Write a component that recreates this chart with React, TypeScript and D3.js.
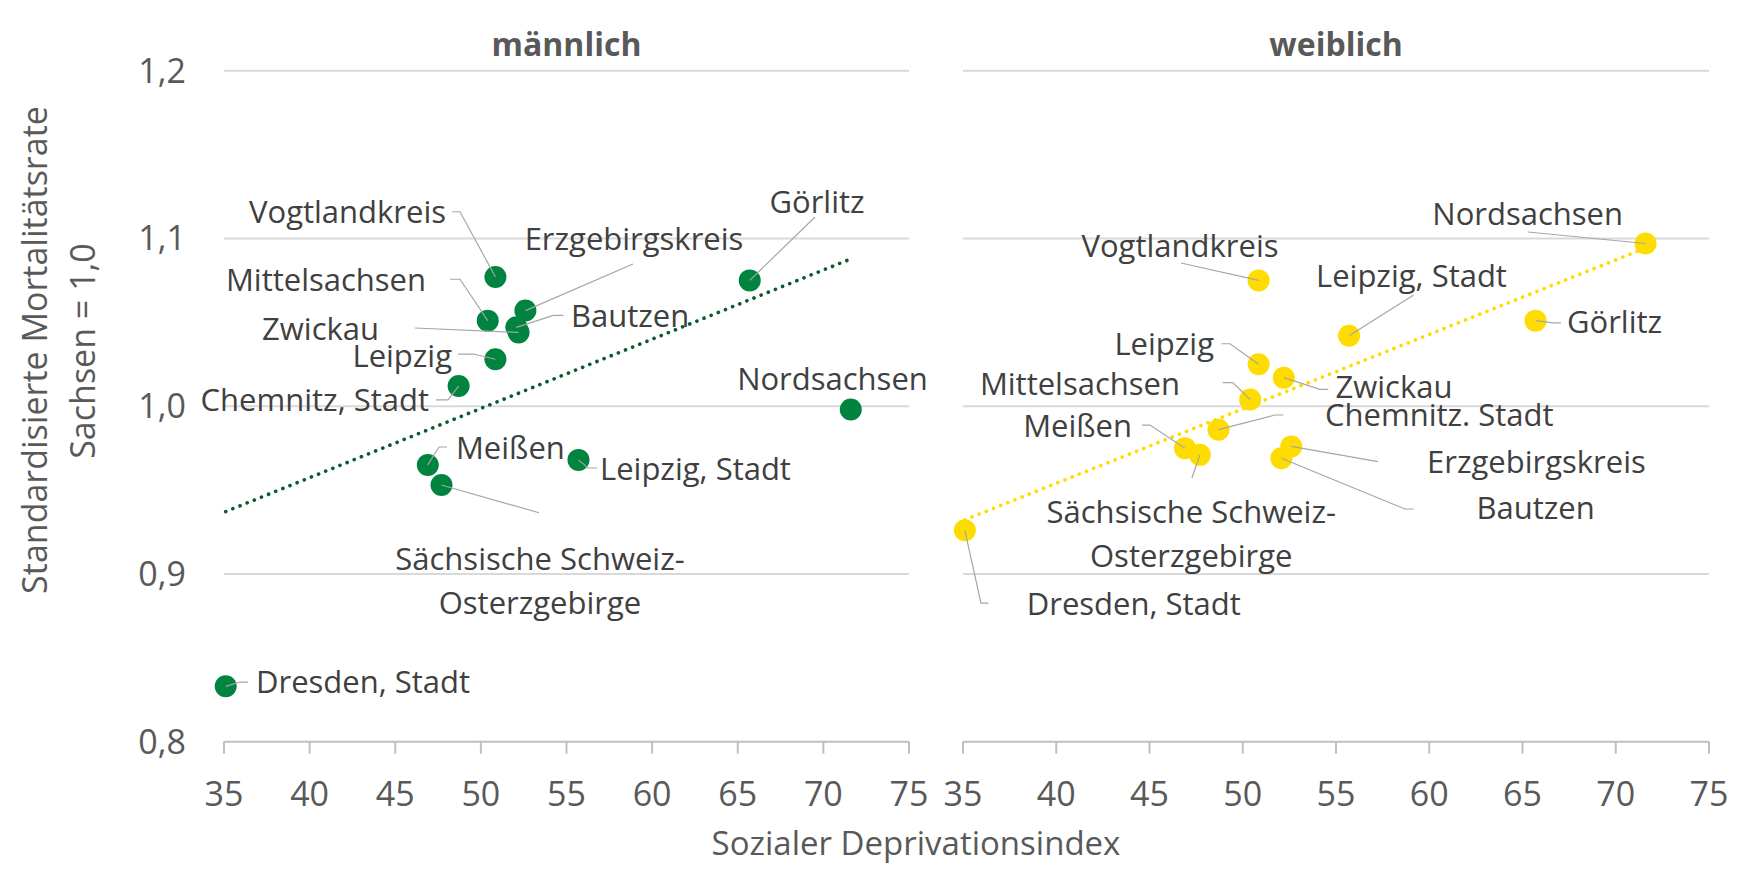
import React, { useEffect } from "react";
import * as d3 from "d3";

// ---------- Data ----------
const regions = [
  "Dresden, Stadt",
  "Meißen",
  "Sächsische Schweiz-Osterzgebirge",
  "Chemnitz, Stadt",
  "Mittelsachsen",
  "Vogtlandkreis",
  "Leipzig",
  "Bautzen",
  "Zwickau",
  "Erzgebirgskreis",
  "Leipzig, Stadt",
  "Görlitz",
  "Nordsachsen",
];
const deprivationIndex = [35.1, 46.9, 47.7, 48.7, 50.4, 50.85, 50.85, 52.07, 52.2, 52.6, 55.7, 65.7, 71.6];
const smrMale = [0.833, 0.965, 0.953, 1.012, 1.051, 1.077, 1.028, 1.047, 1.044, 1.057, 0.968, 1.075, 0.998];
const smrFemale = [0.926, 0.975, 0.971, 0.986, 1.004, 1.075, 1.025, 0.969, 1.017, 0.976, 1.042, 1.051, 1.097];

// label texts as printed in each panel (lines)
const labelsMale = [
  ["Dresden, Stadt"],
  ["Meißen"],
  ["Sächsische Schweiz-", "Osterzgebirge"],
  ["Chemnitz, Stadt"],
  ["Mittelsachsen"],
  ["Vogtlandkreis"],
  ["Leipzig"],
  ["Bautzen"],
  ["Zwickau"],
  ["Erzgebirgskreis"],
  ["Leipzig, Stadt"],
  ["Görlitz"],
  ["Nordsachsen"],
];
const labelsFemale = [
  ["Dresden, Stadt"],
  ["Meißen"],
  ["Sächsische Schweiz-", "Osterzgebirge"],
  ["Chemnitz. Stadt"],
  ["Mittelsachsen"],
  ["Vogtlandkreis"],
  ["Leipzig"],
  ["Bautzen"],
  ["Zwickau"],
  ["Erzgebirgskreis"],
  ["Leipzig, Stadt"],
  ["Görlitz"],
  ["Nordsachsen"],
];

const xTicks = [35, 40, 45, 50, 55, 60, 65, 70, 75];
const yTicks = [0.8, 0.9, 1.0, 1.1, 1.2];
const panelTitles = ["männlich", "weiblich"];
const yTitleLines = ["Standardisierte Mortalitätsrate", "Sachsen = 1,0"];
const xTitle = "Sozialer Deprivationsindex";

// ---------- Label layout (pixel offsets relative to each point) ----------
type Lay = { a: "start" | "middle" | "end"; dx: number; dy: number; leader: number[][] };
const layoutMale: Lay[] = [
  { a: "start", dx: 30.3, dy: 6.7, leader: [[22.3, -4.3], [14.3, -4.3]] },
  { a: "start", dx: 28.2, dy: -5.9, leader: [[19.2, -17.9], [11.2, -17.9]] },
  { a: "middle", dx: 98.5, dy: 85, leader: [[97.5, 27.7]] },
  { a: "end", dx: -29.6, dy: 24.9, leader: [[-22.6, 13.9], [-10.6, 13.9]] },
  { a: "end", dx: -61.7, dy: -29.7, leader: [[-37.7, -41.4], [-27.7, -41.4]] },
  { a: "end", dx: -49.4, dy: -53.7, leader: [[-43.4, -65.3], [-35.4, -65.3]] },
  { a: "end", dx: -43.4, dy: 7.8, leader: [[-37.4, -5.2], [-22, -5.2]] },
  { a: "start", dx: 54.7, dy: -0.4, leader: [[47, -12], [37, -12]] },
  { a: "end", dx: -139.5, dy: 7.6, leader: [[-103.5, -4.4]] },
  { a: "middle", dx: 108.6, dy: -60.6, leader: [[107.6, -46.6]] },
  { a: "start", dx: 21.5, dy: 20.1, leader: [[18.5, 8.1], [9.5, 8.1]] },
  { a: "middle", dx: 67.3, dy: -67.4, leader: [[65.3, -63.4]] },
  { a: "middle", dx: -18.3, dy: -19.6, leader: [] },
];
const layoutFemale: Lay[] = [
  { a: "start", dx: 61.9, dy: 84.7, leader: [[23.6, 72.7], [16.1, 72.7]] },
  { a: "end", dx: -52.9, dy: -11.1, leader: [[-42.9, -23.1], [-34.9, -23.1]] },
  { a: "middle", dx: -8.6, dy: 68.2, leader: [[-7.9, 23.2]] },
  { a: "start", dx: 106.5, dy: -3.7, leader: [[64.8, -14.7], [56.5, -14.7]] },
  { a: "end", dx: -70.2, dy: -4.5, leader: [[-27.5, -16.8], [-17.5, -16.8]] },
  { a: "middle", dx: -78.6, dy: -23.4, leader: [[-77.6, -17.4]] },
  { a: "end", dx: -44.6, dy: -9.5, leader: [[-37, -20.5], [-28.6, -20.5]] },
  { a: "start", dx: 195.1, dy: 60.8, leader: [[132.3, 50.8], [123.6, 50.8]] },
  { a: "start", dx: 51.7, dy: 20.3, leader: [[44.5, 11.6], [36.2, 11.6]] },
  { a: "start", dx: 135.8, dy: 26.2, leader: [[86.8, 15.2]] },
  { a: "middle", dx: 62.4, dy: -48.7, leader: [[64.6, -40.7]] },
  { a: "start", dx: 31.4, dy: 12.3, leader: [[25.4, 2.3], [17.4, 2.3]] },
  { a: "middle", dx: -117.9, dy: -18.5, leader: [[-117.6, -11.5]] },
];

// ---------- Styles ----------
const W = 1757;
const H = 869;
const FONT = "'Open Sans', 'Noto Sans', sans-serif";
const GREEN = "#00843F";
const GREEN_TREND = "#0A5A2E";
const YELLOW = "#FFDC00";
const LABEL_COLOR = "#404040";
const AXIS_TEXT = "#595959";
const GRID = "#D9D9D9";
const AXIS_LINE = "#BFBFBF";
const LEADER = "#A6A6A6";

function linFit(xs: number[], ys: number[]) {
  const mx = d3.mean(xs) as number;
  const my = d3.mean(ys) as number;
  let sxy = 0;
  let sxx = 0;
  xs.forEach((x, i) => {
    sxy += (x - mx) * (ys[i] - my);
    sxx += (x - mx) * (x - mx);
  });
  const b = sxy / sxx;
  const a = my - b * mx;
  return (x: number) => a + b * x;
}

const yScale = d3.scaleLinear().domain([0.8, 1.2]).range([741.7, 70.7]);
const fmtY = (v: number) => d3.format(".1f")(v).replace(".", ",");

function Panel({
  x,
  values,
  labels,
  layout,
  color,
  trendColor,
  title,
  showYTicks,
}: {
  x: d3.ScaleLinear<number, number>;
  values: number[];
  labels: string[][];
  layout: Lay[];
  color: string;
  trendColor: string;
  title: string;
  showYTicks: boolean;
}) {
  const [x0, x1] = x.range();
  const fit = linFit(deprivationIndex, values);
  const xmin = d3.min(deprivationIndex) as number;
  const xmax = d3.max(deprivationIndex) as number;
  const trend = d3
    .line<number>()
    .x((d) => x(d))
    .y((d) => yScale(fit(d)))([xmin, xmax]);
  const pts = deprivationIndex.map((d, i) => [x(d), yScale(values[i])]);
  return (
    <g>
      <text
        x={(x0 + x1) / 2}
        y={56}
        textAnchor="middle"
        fontFamily={FONT}
        fontWeight={700}
        fontSize={32}
        fill={AXIS_TEXT}
      >
        {title}
      </text>
      {yTicks.map((t) => (
        <line
          key={"g" + t}
          x1={x0}
          x2={x1}
          y1={yScale(t)}
          y2={yScale(t)}
          stroke={t === 0.8 ? AXIS_LINE : GRID}
          strokeWidth={2}
        />
      ))}
      {xTicks.map((t) => (
        <g key={"x" + t}>
          <line x1={x(t)} x2={x(t)} y1={yScale(0.8)} y2={yScale(0.8) + 12} stroke={AXIS_LINE} strokeWidth={2} />
          <text x={x(t)} y={806} textAnchor="middle" fontFamily={FONT} fontSize={34} fill={AXIS_TEXT}>
            {t}
          </text>
        </g>
      ))}
      {showYTicks &&
        yTicks.map((t) => (
          <text
            key={"y" + t}
            x={186}
            y={yScale(t) + 12}
            textAnchor="end"
            fontFamily={FONT}
            fontSize={34}
            fill={AXIS_TEXT}
          >
            {fmtY(t)}
          </text>
        ))}
      <path d={trend || ""} fill="none" stroke={trendColor} strokeWidth={3.6} strokeDasharray="0.1 7.6" strokeLinecap="round" />
      {pts.map(([px, py], i) => (
        <circle key={"p" + i} cx={px} cy={py} r={11} fill={color} />
      ))}
      {pts.map(([px, py], i) => {
        const L = layout[i];
        if (!L.leader.length) return null;
        const pp = L.leader.map(([lx, ly]) => [px + lx, py + ly]).concat([[px, py]]);
        return (
          <polyline
            key={"l" + i}
            points={pp.map((p) => p.join(",")).join(" ")}
            fill="none"
            stroke={LEADER}
            strokeWidth={1.2}
          />
        );
      })}
      {pts.map(([px, py], i) => {
        const L = layout[i];
        return (
          <text
            key={"t" + i}
            x={px + L.dx}
            y={py + L.dy}
            textAnchor={L.a}
            fontFamily={FONT}
            fontSize={31}
            fill={LABEL_COLOR}
          >
            {labels[i].map((s, k) => (
              <tspan key={k} x={px + L.dx} dy={k === 0 ? 0 : 43.5}>
                {s}
              </tspan>
            ))}
          </text>
        );
      })}
    </g>
  );
}

export default function App() {
  useEffect(() => {
    document.body.style.margin = "0";
  }, []);
  const xL = d3.scaleLinear().domain([35, 75]).range([224, 909]);
  const xR = d3.scaleLinear().domain([35, 75]).range([963, 1709]);
  return (
    <svg
      width={W}
      height={H}
      viewBox={`0 0 ${W} ${H}`}
      style={{ position: "absolute", left: 0, top: 0, background: "#fff" }}
    >
      <rect x={0} y={0} width={W} height={H} fill="#fff" />
      <Panel
        x={xL}
        values={smrMale}
        labels={labelsMale}
        layout={layoutMale}
        color={GREEN}
        trendColor={GREEN_TREND}
        title={panelTitles[0]}
        showYTicks={true}
      />
      <Panel
        x={xR}
        values={smrFemale}
        labels={labelsFemale}
        layout={layoutFemale}
        color={YELLOW}
        trendColor={YELLOW}
        title={panelTitles[1]}
        showYTicks={false}
      />
      <text
        transform="translate(46.7,350) rotate(-90)"
        textAnchor="middle"
        fontFamily={FONT}
        fontSize={34}
        fill={AXIS_TEXT}
      >
        {yTitleLines[0]}
      </text>
      <text
        transform="translate(95,351) rotate(-90)"
        textAnchor="middle"
        fontFamily={FONT}
        fontSize={34}
        fill={AXIS_TEXT}
      >
        {yTitleLines[1]}
      </text>
      <text x={916} y={855} textAnchor="middle" fontFamily={FONT} fontSize={33} fill={AXIS_TEXT}>
        {xTitle}
      </text>
    </svg>
  );
}
